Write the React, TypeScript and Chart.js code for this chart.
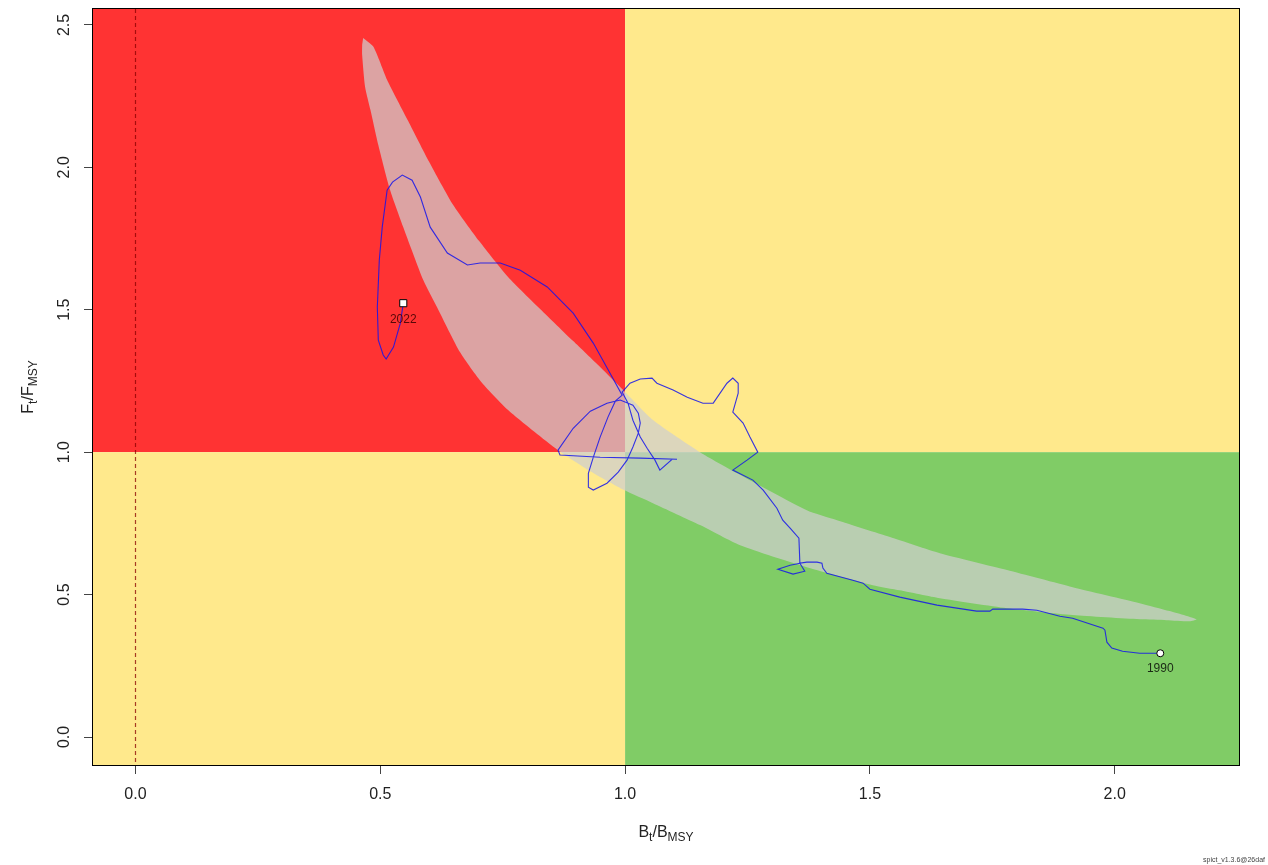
import React, { useEffect, useRef } from "react";
import { Chart, registerables } from "chart.js";

Chart.register(...registerables);

const FONT = "'Liberation Sans', Arial, Helvetica, sans-serif";

// axes
const xTicks = [0, 0.5, 1, 1.5, 2];
const yTicks = [0, 0.5, 1, 1.5, 2, 2.5];
const xRange = [-0.0867, 2.2538];
const yRange = [-0.0983, 2.5559];
const bRef = 1;
const fRef = 1;

// confidence region (B/Bmsy, F/Fmsy)
const ellipseB = [0.465, 0.486, 0.514, 0.557, 0.600, 0.649, 0.702, 0.761, 0.827, 0.894, 0.949, 0.998, 1.057, 1.153, 1.229, 1.371, 1.433, 1.541, 1.643, 1.780, 1.914, 2.051, 2.112, 2.167, 2.153, 2.106, 2.051, 1.914, 1.780, 1.643, 1.561, 1.506, 1.371, 1.235, 1.153, 1.057, 0.998, 0.929, 0.863, 0.816, 0.761, 0.708, 0.663, 0.616, 0.588, 0.547, 0.520, 0.496, 0.480, 0.469, 0.463, 0.463];
const ellipseF = [2.454, 2.423, 2.307, 2.163, 2.019, 1.868, 1.741, 1.615, 1.502, 1.390, 1.299, 1.215, 1.113, 1.000, 0.926, 0.796, 0.761, 0.702, 0.645, 0.586, 0.526, 0.470, 0.442, 0.413, 0.406, 0.410, 0.413, 0.428, 0.452, 0.487, 0.515, 0.533, 0.596, 0.673, 0.744, 0.821, 0.867, 0.933, 1.007, 1.070, 1.148, 1.243, 1.351, 1.509, 1.604, 1.790, 1.920, 2.078, 2.201, 2.282, 2.394, 2.430];

// trajectory 1990 -> 2022
const trajB = [2.093, 2.051, 2.016, 1.994, 1.984, 1.980, 1.976, 1.914, 1.888, 1.841, 1.812, 1.751, 1.745, 1.718, 1.637, 1.561, 1.500, 1.486, 1.465, 1.412, 1.404, 1.402, 1.392, 1.371, 1.357, 1.367, 1.343, 1.312, 1.337, 1.357, 1.355, 1.337, 1.322, 1.310, 1.282, 1.261, 1.220, 1.249, 1.271, 1.255, 1.241, 1.220, 1.231, 1.231, 1.220, 1.208, 1.180, 1.159, 1.127, 1.098, 1.065, 1.055, 1.031, 1.010, 0.994, 1.006, 1.016, 1.031, 1.045, 1.061, 1.071, 1.096, 1.106, 1.031, 0.949, 0.867, 0.863, 0.894, 0.929, 0.963, 0.990, 1.016, 1.027, 1.031, 1.027, 1.016, 1.004, 0.986, 0.963, 0.935, 0.925, 0.925, 0.935, 0.949, 0.965, 0.980, 0.994, 0.969, 0.935, 0.894, 0.841, 0.786, 0.745, 0.704, 0.678, 0.637, 0.602, 0.582, 0.565, 0.545, 0.525, 0.514, 0.504, 0.498, 0.494, 0.496, 0.506, 0.512, 0.527, 0.541, 0.547];
const trajF = [0.294, 0.294, 0.301, 0.312, 0.333, 0.375, 0.382, 0.417, 0.424, 0.445, 0.449, 0.449, 0.442, 0.442, 0.463, 0.491, 0.519, 0.540, 0.550, 0.575, 0.593, 0.610, 0.614, 0.614, 0.610, 0.582, 0.572, 0.589, 0.603, 0.610, 0.698, 0.733, 0.761, 0.803, 0.867, 0.902, 0.937, 0.972, 1.000, 1.053, 1.102, 1.141, 1.207, 1.242, 1.260, 1.242, 1.172, 1.172, 1.193, 1.218, 1.242, 1.260, 1.257, 1.242, 1.211, 1.172, 1.112, 1.053, 1.014, 0.972, 0.937, 0.975, 0.975, 0.979, 0.982, 0.990, 1.007, 1.084, 1.144, 1.172, 1.183, 1.165, 1.137, 1.102, 1.067, 1.018, 0.972, 0.930, 0.891, 0.867, 0.877, 0.926, 0.982, 1.053, 1.123, 1.179, 1.200, 1.278, 1.383, 1.488, 1.580, 1.639, 1.664, 1.664, 1.657, 1.699, 1.790, 1.896, 1.955, 1.973, 1.948, 1.920, 1.790, 1.674, 1.509, 1.393, 1.341, 1.327, 1.369, 1.453, 1.523];

const yearLabels = ["1990", "2022"];
const versionText = "spict_v1.3.6@26daf";

const RED = "rgb(255,51,51)";
const YELLOW = "rgb(255,233,140)";
const GREEN = "rgb(128,204,102)";

type Part = [string, boolean];

function drawMath(ctx: CanvasRenderingContext2D, parts: Part[], cx: number, cy: number, size: number, subSize: number, shift: number) {
  let total = 0;
  const widths = parts.map(([t, sub]) => {
    ctx.font = `${sub ? subSize : size}px ${FONT}`;
    const w = ctx.measureText(t).width;
    total += w;
    return w;
  });
  let x = cx - total / 2;
  ctx.textAlign = "left";
  ctx.textBaseline = "alphabetic";
  parts.forEach(([t, sub], i) => {
    ctx.font = `${sub ? subSize : size}px ${FONT}`;
    ctx.fillText(t, x, cy + (sub ? shift : 0));
    x += widths[i];
  });
}

export default function App() {
  const ref = useRef<HTMLCanvasElement>(null);

  useEffect(() => {
    const canvas = ref.current;
    if (!canvas) return;

    const kobe = {
      id: "kobe",
      beforeDatasetsDraw(chart: any) {
        const { ctx, chartArea: a, scales } = chart;
        const x = scales.x;
        const y = scales.y;
        const bx = x.getPixelForValue(bRef);
        const fy = y.getPixelForValue(fRef);
        ctx.save();
        ctx.beginPath();
        ctx.rect(a.left, a.top, a.right - a.left, a.bottom - a.top);
        ctx.clip();
        ctx.fillStyle = RED;
        ctx.fillRect(a.left, a.top, bx - a.left, fy - a.top);
        ctx.fillStyle = YELLOW;
        ctx.fillRect(bx, a.top, a.right - bx, fy - a.top);
        ctx.fillRect(a.left, fy, bx - a.left, a.bottom - fy);
        ctx.fillStyle = GREEN;
        ctx.fillRect(bx, fy, a.right - bx, a.bottom - fy);
        const x0 = Math.round(x.getPixelForValue(0)) + 0.5;
        ctx.strokeStyle = "rgba(139,0,0,0.75)";
        ctx.lineWidth = 1.2;
        ctx.setLineDash([4, 3]);
        ctx.beginPath();
        ctx.moveTo(x0, a.top);
        ctx.lineTo(x0, a.bottom);
        ctx.stroke();
        ctx.restore();
      },
      afterDatasetsDraw(chart: any) {
        const { ctx, chartArea: a, scales } = chart;
        const x = scales.x;
        const y = scales.y;
        ctx.save();
        ctx.strokeStyle = "#000";
        ctx.lineWidth = 1;
        ctx.strokeRect(a.left - 0.5, a.top - 0.5, a.right - a.left + 1, a.bottom - a.top + 1);
        ctx.font = `12px ${FONT}`;
        ctx.textAlign = "center";
        ctx.textBaseline = "middle";
        const n = trajB.length - 1;
        ctx.fillStyle = "rgba(0,0,0,0.8)";
        ctx.fillText(yearLabels[0], x.getPixelForValue(trajB[0]), y.getPixelForValue(trajF[0]) + 15);
        ctx.fillStyle = "rgba(60,0,0,0.85)";
        ctx.fillText(yearLabels[1], x.getPixelForValue(trajB[n]), y.getPixelForValue(trajF[n]) + 16);
        ctx.restore();
      },
      afterDraw(chart: any) {
        const { ctx, chartArea: a } = chart;
        ctx.save();
        ctx.fillStyle = "#222";
        const cx = (a.left + a.right) / 2;
        drawMath(ctx, [["B", false], ["t", true], ["/", false], ["B", false], ["MSY", true]], cx, 837, 16, 12, 4);
        const cy = (a.top + a.bottom) / 2;
        ctx.translate(33, cy);
        ctx.rotate(-Math.PI / 2);
        drawMath(ctx, [["F", false], ["t", true], ["/", false], ["F", false], ["MSY", true]], 0, 0, 16, 12, 4);
        ctx.restore();
        ctx.save();
        ctx.fillStyle = "#444";
        ctx.font = `7px ${FONT}`;
        ctx.textAlign = "left";
        ctx.textBaseline = "alphabetic";
        ctx.fillText(versionText, 1203, 862);
        ctx.restore();
      },
    };

    const fmt = (v: any) => Number(v).toFixed(1);

    const chart = new Chart(canvas, {
      type: "scatter",
      data: {
        datasets: [
          {
            data: ellipseB.map((b, i) => ({ x: b, y: ellipseF[i] })),
            order: 10,
            showLine: true,
            fill: "shape",
            backgroundColor: "rgba(206,206,206,0.72)",
            borderColor: "rgba(0,0,0,0)",
            borderWidth: 1,
            pointRadius: 0,
            tension: 0.2,
          } as any,
          {
            data: trajB.map((b, i) => ({ x: b, y: trajF[i] })),
            order: 5,
            showLine: true,
            fill: false,
            borderColor: "rgba(20,20,235,0.85)",
            borderWidth: 1.1,
            pointRadius: 0,
            tension: 0,
          },
          {
            data: [{ x: trajB[0], y: trajF[0] }],
            order: 1,
            pointStyle: "circle",
            pointRadius: 3.5,
            backgroundColor: "#fff",
            borderColor: "#000",
            borderWidth: 1,
          },
          {
            data: [{ x: trajB[trajB.length - 1], y: trajF[trajF.length - 1] }],
            order: 0,
            pointStyle: "rect",
            pointRadius: 5,
            backgroundColor: "#fff",
            borderColor: "#000",
            borderWidth: 1,
          },
        ],
      },
      options: {
        responsive: false,
        animation: false,
        events: [],
        layout: { padding: { left: 0, top: 9, right: 29, bottom: 0 } },
        plugins: { legend: { display: false }, tooltip: { enabled: false } },
        scales: {
          x: {
            type: "linear",
            min: xRange[0],
            max: xRange[1],
            afterBuildTicks: (s: any) => {
              s.ticks = xTicks.map((v) => ({ value: v }));
            },
            afterFit: (s: any) => {
              s.height = 100;
              s.paddingLeft = 0;
              s.paddingRight = 0;
            },
            ticks: {
              callback: fmt,
              autoSkip: false,
              maxRotation: 0,
              padding: 11,
              color: "#222",
              font: { family: FONT, size: 16 },
            },
            grid: { display: true, drawOnChartArea: false, drawTicks: true, tickLength: 9, color: "#444", tickColor: "#444" },
            border: { display: false },
          },
          y: {
            type: "linear",
            min: yRange[0],
            max: yRange[1],
            afterBuildTicks: (s: any) => {
              s.ticks = yTicks.map((v) => ({ value: v }));
            },
            afterFit: (s: any) => {
              s.width = 93;
              s.paddingTop = 0;
              s.paddingBottom = 0;
            },
            ticks: {
              callback: fmt,
              autoSkip: false,
              minRotation: 90,
              maxRotation: 90,
              crossAlign: "center",
              padding: 8,
              color: "#222",
              font: { family: FONT, size: 16 },
            },
            grid: { display: true, drawOnChartArea: false, drawTicks: true, tickLength: 9, color: "#444", tickColor: "#444" },
            border: { display: false },
          },
        },
      } as any,
      plugins: [kobe],
    });
    return () => chart.destroy();
  }, []);

  return (
    <div style={{ position: "absolute", left: 0, top: 0, width: 1268, height: 865, background: "#fff" }}>
      <canvas ref={ref} width={1268} height={865} style={{ display: "block" }} />
    </div>
  );
}
